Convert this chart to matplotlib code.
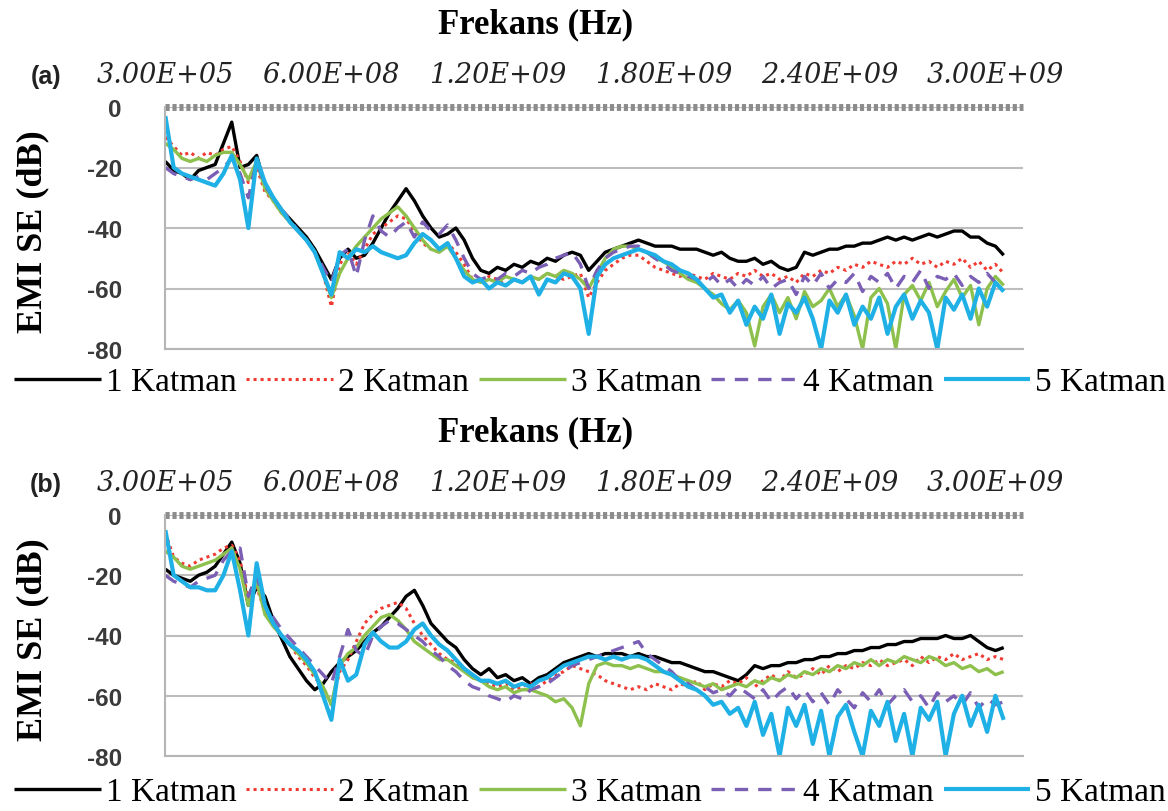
import numpy as np
import matplotlib.pyplot as plt

# Frekans taramasi (Hz): 3.00E+05 den baslayan 30 MHz adimli 102 nokta
freq = 3e5 + 3e7 * np.arange(102)

# (a) paneli - EMI SE (dB)
a_k1 = [-18, -21, -22, -24, -21, -20, -19, -12, -5, -20, -19, -16, -26, -30, -34, -37, -40, -43, -47, -52,
        -57, -50, -47, -50, -49, -45, -40, -35, -31, -27, -31, -36, -40, -43, -42, -40, -44, -50, -54, -55,
        -53, -54, -52, -53, -51, -52, -50, -51, -49, -48, -49, -54, -51, -48, -47, -46, -45, -44, -45, -46,
        -46, -46, -47, -47, -47, -48, -49, -48, -50, -51, -51, -50, -52, -51, -53, -54, -53, -48, -49, -48,
        -47, -47, -46, -46, -45, -45, -44, -43, -44, -43, -44, -43, -42, -43, -42, -41, -41, -43, -43, -45,
        -46, -49]
a_k2 = [-10, -13, -16, -15, -17, -15, -16, -14, -13, -18, -25, -20, -28, -31, -35, -38, -41, -44, -48, -55,
        -66, -52, -48, -52, -47, -42, -40, -38, -36, -37, -41, -45, -47, -48, -45, -48, -52, -57, -58, -56,
        -57, -59, -57, -58, -56, -57, -55, -56, -57, -56, -55, -63, -58, -54, -52, -50, -49, -49, -51, -53,
        -54, -55, -56, -55, -56, -57, -55, -56, -57, -55, -56, -54, -56, -55, -57, -56, -58, -55, -56, -54,
        -55, -53, -54, -52, -53, -51, -52, -53, -51, -52, -50, -52, -51, -53, -51, -52, -50, -53, -51, -54,
        -52, -55]
a_k3 = [-12, -14, -17, -18, -17, -18, -16, -15, -15, -19, -24, -18, -27, -31, -35, -38, -41, -44, -48, -55,
        -63, -55, -50, -46, -43, -40, -37, -35, -33, -36, -40, -44, -47, -48, -46, -50, -54, -57, -58, -57,
        -58, -56, -57, -58, -56, -57, -55, -56, -54, -55, -57, -60, -55, -50, -47, -46, -46, -47, -48, -50,
        -51, -53, -55, -57, -58, -60, -62, -65, -67, -64, -68, -79, -66, -62, -68, -63, -70, -61, -66, -64,
        -60, -66, -62, -69, -80, -63, -60, -65, -80, -62, -59, -64, -58, -66, -61, -57, -63, -59, -72, -60,
        -56, -59]
a_k4 = [-20, -22, -23, -24, -23, -24, -22, -20, -17, -22, -30, -18, -26, -30, -34, -37, -41, -44, -48, -53,
        -58, -49, -47, -56, -44, -36, -41, -43, -40, -38, -43, -38, -41, -42, -39, -44, -50, -55, -57, -56,
        -57, -55, -56, -54, -55, -53, -52, -50, -49, -48, -52, -60, -54, -50, -48, -47, -46, -46, -48, -50,
        -52, -54, -55, -56, -57, -58, -56, -59, -57, -60, -57, -59, -56, -60, -58, -57, -62, -56, -59, -55,
        -60, -57, -58, -55, -61, -56, -58, -55, -60, -56, -58, -54, -60, -56, -57, -55, -59, -56, -58, -55,
        -58, -57]
a_k5 = [-3, -20, -22, -23, -24, -25, -26, -22, -16, -24, -40, -17, -25, -30, -34, -38, -41, -44, -48, -55,
        -62, -48, -50, -47, -48, -46, -48, -49, -50, -49, -45, -42, -44, -47, -45, -50, -56, -58, -57, -60,
        -58, -59, -57, -58, -56, -62, -57, -58, -55, -56, -60, -75, -56, -52, -50, -49, -48, -47, -48, -49,
        -51, -52, -54, -55, -57, -60, -63, -62, -68, -64, -72, -66, -70, -62, -75, -65, -68, -63, -70, -80,
        -64, -68, -62, -72, -66, -70, -63, -75, -66, -62, -70, -64, -68, -80, -63, -67, -62, -70, -60, -66,
        -58, -61]

# (b) paneli - EMI SE (dB)
b_k1 = [-18, -20, -21, -22, -20, -19, -17, -13, -9, -16, -30, -24, -27, -35, -41, -47, -51, -55, -58, -56,
        -52, -49, -47, -45, -42, -39, -37, -34, -31, -27, -25, -30, -36, -39, -42, -44, -48, -51, -53, -51,
        -54, -53, -55, -54, -56, -54, -53, -51, -49, -48, -47, -46, -47, -46, -46, -46, -47, -46, -47, -47,
        -48, -49, -49, -50, -51, -52, -52, -53, -54, -55, -53, -50, -51, -50, -50, -49, -49, -48, -48, -47,
        -47, -46, -46, -45, -45, -44, -44, -43, -43, -42, -42, -41, -41, -41, -40, -41, -41, -40, -42, -44,
        -45, -44]
b_k2 = [-6, -14, -16, -17, -15, -14, -13, -11, -10, -15, -28, -24, -32, -36, -40, -43, -47, -50, -54, -57,
        -63, -52, -48, -42, -36, -33, -31, -30, -29, -31, -36, -40, -43, -46, -48, -49, -51, -54, -55, -56,
        -57, -56, -58, -57, -56, -57, -55, -53, -52, -50, -51, -52, -53, -55, -56, -57, -58, -57, -58, -56,
        -57, -58, -56, -57, -55, -58, -56, -57, -55, -56, -54, -57, -55, -53, -55, -52, -54, -53, -51, -53,
        -50, -52, -50, -51, -49, -50, -48, -50, -49, -48, -50, -47, -49, -47, -48, -46, -48, -47, -46, -48,
        -47, -48]
b_k3 = [-12, -14, -17, -18, -17, -16, -15, -13, -11, -18, -30, -22, -33, -37, -40, -43, -46, -49, -53, -57,
        -63, -50, -46, -44, -40, -37, -34, -33, -35, -38, -42, -44, -46, -48, -48, -50, -52, -54, -55, -57,
        -58, -57, -59, -58, -58, -59, -60, -62, -61, -64, -70, -56, -50, -49, -50, -50, -51, -50, -51, -52,
        -52, -53, -54, -55, -56, -57, -56, -58, -57, -56, -57, -55, -56, -54, -55, -53, -54, -52, -53, -51,
        -52, -50, -51, -49, -50, -48, -50, -48, -49, -47, -48, -49, -47, -48, -50, -49, -51, -50, -52, -51,
        -53, -52]
b_k4 = [-20, -22, -23, -24, -22, -21, -20, -15, -12, -11, -27, -20, -30, -34, -38, -41, -44, -47, -50, -53,
        -56, -47, -38, -45, -47, -40, -37, -35, -36, -38, -40, -42, -45, -47, -50, -52, -55, -57, -58, -60,
        -61, -62, -60, -61, -58, -57, -56, -54, -52, -50, -49, -48, -47, -46, -45, -44, -43, -42, -46, -48,
        -50, -52, -55, -56, -58, -57, -59, -58, -60, -57, -59, -61, -58, -62, -59, -57, -61, -58, -62, -59,
        -63, -58, -61, -64, -59, -62, -58, -63, -60, -58, -62, -60, -64, -59, -62, -60, -63, -59, -64, -61,
        -63, -62]
b_k5 = [-5, -20, -22, -24, -24, -25, -25, -20, -12, -25, -40, -16, -30, -36, -40, -43, -45, -48, -52, -60,
        -68, -48, -55, -53, -43, -39, -42, -44, -44, -42, -38, -36, -40, -43, -45, -48, -51, -53, -55, -55,
        -56, -55, -57, -56, -57, -55, -54, -52, -50, -49, -48, -47, -47, -48, -47, -48, -47, -47, -48, -50,
        -52, -53, -55, -57, -58, -60, -63, -62, -66, -64, -70, -62, -73, -66, -80, -64, -70, -63, -76, -65,
        -80, -67, -63, -72, -80, -65, -70, -62, -75, -66, -80, -64, -68, -62, -80, -66, -60, -70, -63, -72,
        -60, -68]

labels = ['1 Katman', '2 Katman', '3 Katman', '4 Katman', '5 Katman']
x_ticks = [3e5, 6e8, 1.2e9, 1.8e9, 2.4e9, 3e9]
x_tick_labels = ['3.00E+05', '6.00E+08', '1.20E+09', '1.80E+09', '2.40E+09', '3.00E+09']
y_ticks = [0, -20, -40, -60, -80]

# Cizgi stilleri (Excel benzeri)
styles = [
    dict(color='black', lw=2.4, ls='-'),
    dict(color='#f03a32', lw=2.2, ls=(0, (1, 1.3))),
    dict(color='#8dc04c', lw=2.4, ls='-'),
    dict(color='#7b5fb5', lw=2.4, ls=(0, (4, 3))),
    dict(color='#1fb0e6', lw=3.0, ls='-'),
]

W, H = 1168, 812
fig = plt.figure(figsize=(W / 100, H / 100), dpi=100)


def panel(top_px, bottom_px, series, tag, legend_y):
    ax = fig.add_axes([165 / W, 1 - bottom_px / H, 858 / W, (bottom_px - top_px) / H])
    for vals, lab, st in zip(series, labels, styles):
        ax.plot(freq, vals, label=lab, solid_capstyle='butt', **st)

    ax.set_xlim(-1e6, 3.1e9)
    ax.set_ylim(-80, 0)

    # ust eksen etiketleri
    ax.xaxis.tick_top()
    ax.set_xticks(x_ticks)
    ax.set_xticklabels(x_tick_labels, fontfamily='DejaVu Serif', style='italic',
                       fontsize=19.5, color='#222222')
    ax.set_yticks(y_ticks)
    ax.set_yticklabels([str(v) for v in y_ticks], fontfamily='Liberation Sans',
                       fontweight='bold', fontsize=17.5, color='#3a3a3a')
    ax.tick_params(axis='x', length=0, pad=14)
    ax.tick_params(axis='y', length=0, pad=31)

    for s in ['top', 'right']:
        ax.spines[s].set_visible(False)
    for s in ['left', 'bottom']:
        ax.spines[s].set_color('#b5b5b5')
        ax.spines[s].set_linewidth(1.5)
    ax.yaxis.grid(True, color='#bdbdbd', lw=1.5)
    ax.set_axisbelow(True)

    # 0 dB cizgisi (kesikli gri eksen)
    ax.axhline(0, color='#8c8c8c', lw=5, ls=(0, (0.6, 0.4)), clip_on=False, zorder=1)

    fig.text(536 / W, 1 - (top_px - 83) / H, 'Frekans (Hz)', ha='center', va='center',
             fontfamily='Liberation Serif', fontweight='bold', fontsize=25)
    fig.text(46 / W, 1 - (top_px - 31) / H, tag, ha='center', va='center',
             fontfamily='Liberation Sans', fontweight='bold', fontsize=18, color='#222222')
    fig.text(33 / W, 1 - (top_px + 124) / H, 'EMI SE (dB)', rotation=90, ha='center', va='center',
             fontfamily='Liberation Serif', fontweight='bold', fontsize=26)

    ax.legend(loc='center', bbox_to_anchor=(590 / W, 1 - legend_y / H), bbox_transform=fig.transFigure,
              ncol=5, frameon=False, prop={'family': 'Liberation Serif', 'size': 24},
              handlelength=2.6, handletextpad=0.15, columnspacing=0.3, borderaxespad=0, borderpad=0)
    return ax


panel(108, 350, [a_k1, a_k2, a_k3, a_k4, a_k5], '(a)', 383)
panel(516, 757, [b_k1, b_k2, b_k3, b_k4, b_k5], '(b)', 793)

fig.savefig('out.png', dpi=100)
